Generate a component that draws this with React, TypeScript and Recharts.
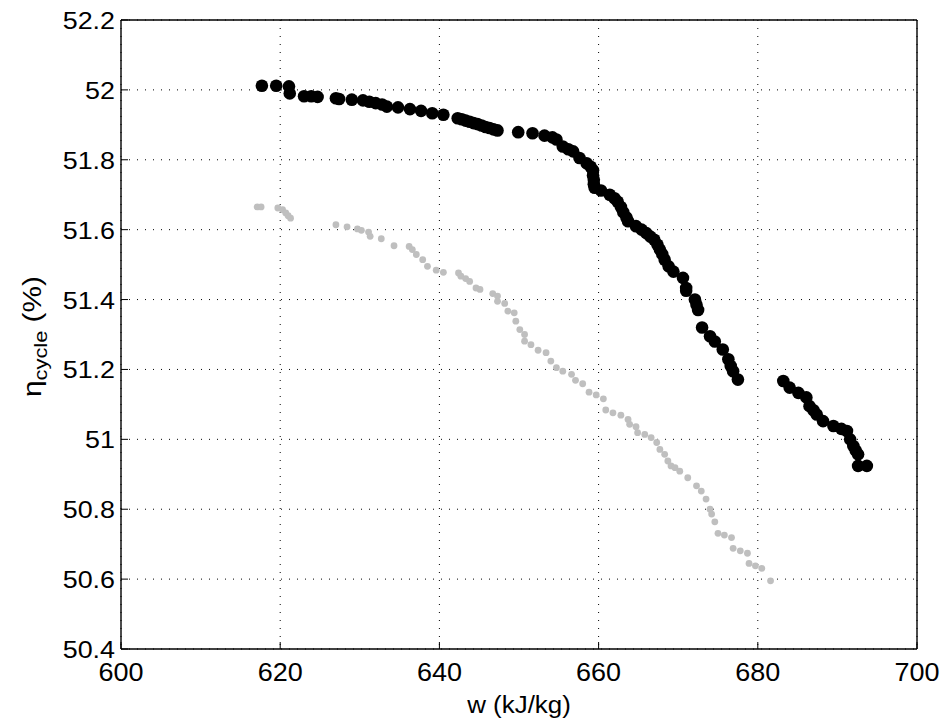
import React from 'react';
import {
  ScatterChart,
  Scatter,
  XAxis,
  YAxis,
  CartesianGrid,
} from 'recharts';

// optimal front, w (kJ/kg) vs cycle efficiency (%)
const blackW = [
  617.7, 619.5, 621.1, 621.2, 623.0, 623.9, 624.7, 627.0, 627.4, 629.0, 630.4, 631.2,
  632.0, 632.8, 633.4, 634.8, 636.3, 637.7, 639.1, 640.5, 642.3, 642.8, 643.3, 643.8,
  644.3, 644.8, 645.3, 645.8, 646.3, 646.8, 647.3, 649.9, 651.7, 653.2, 654.2, 654.7,
  655.5, 656.2, 656.8, 657.6, 658.5, 659.0, 659.3, 659.3, 659.4, 659.4, 659.5, 660.3,
  661.4, 662.0, 662.4, 662.8, 663.1, 663.5, 663.7, 664.7, 665.4, 666.0, 666.5, 667.0,
  667.4, 667.7, 668.0, 668.3, 668.8, 669.4, 670.6, 671.0, 671.0, 672.1, 672.3, 672.5,
  673.0, 674.0, 674.6, 675.6, 676.3, 676.6, 676.9, 677.5, 683.2, 684.0, 685.1, 686.1,
  686.5, 687.0, 687.4, 688.2, 689.5, 690.5, 691.2, 691.6, 692.0, 692.3, 692.6, 692.6,
  693.7,
];
const blackEta = [
  52.012, 52.012, 52.01, 51.99, 51.982, 51.982, 51.98, 51.976, 51.974, 51.972, 51.97, 51.966,
  51.962, 51.958, 51.952, 51.95, 51.945, 51.94, 51.933, 51.929, 51.919, 51.916, 51.912, 51.909,
  51.905, 51.902, 51.898, 51.894, 51.891, 51.887, 51.884, 51.879, 51.876, 51.869, 51.864, 51.858,
  51.838, 51.83, 51.824, 51.805, 51.79, 51.78, 51.77, 51.755, 51.743, 51.73, 51.72, 51.712,
  51.7, 51.69, 51.68, 51.665, 51.65, 51.635, 51.624, 51.61, 51.6, 51.59, 51.58, 51.571,
  51.557, 51.543, 51.53, 51.514, 51.495, 51.48, 51.462, 51.433, 51.425, 51.4, 51.385, 51.37,
  51.32, 51.295, 51.28, 51.257, 51.229, 51.21, 51.195, 51.171, 51.167, 51.148, 51.133, 51.12,
  51.095, 51.083, 51.071, 51.052, 51.038, 51.03, 51.024, 51.0, 50.981, 50.968, 50.957, 50.924,
  50.924,
];

const grayW = [
  617.1, 617.6, 619.7, 620.3, 620.7, 621.0, 621.3, 627.0, 628.4, 629.7, 630.2, 631.1,
  631.3, 632.7, 634.3, 636.2, 636.6, 637.1, 637.9, 638.5, 639.6, 640.5, 642.4, 642.7,
  643.3, 643.8, 644.6, 645.1, 646.7, 647.3, 647.3, 648.2, 648.6, 649.4, 649.6, 650.1,
  650.7, 650.7, 651.5, 652.4, 653.4, 654.0, 654.7, 655.5, 656.6, 657.1, 658.0, 658.8,
  659.7, 660.6, 660.9, 661.8, 662.8, 663.7, 663.9, 664.7, 664.9, 665.8, 666.6, 667.3,
  667.7, 668.3, 668.7, 669.1, 669.6, 670.2, 671.2, 672.3, 672.9, 673.5, 674.0, 674.2,
  674.6, 675.0, 675.8, 676.7, 676.9, 677.8, 678.7, 678.9, 679.7, 680.5, 681.6,
];
const grayEta = [
  51.665, 51.665, 51.662, 51.657, 51.648, 51.64, 51.633, 51.614, 51.608, 51.602, 51.598, 51.593,
  51.581, 51.574, 51.554, 51.552, 51.543, 51.529, 51.514, 51.495, 51.484, 51.478, 51.476, 51.467,
  51.46, 51.452, 51.433, 51.429, 51.417, 51.41, 51.395, 51.389, 51.367, 51.362, 51.338, 51.314,
  51.3, 51.281, 51.271, 51.255, 51.248, 51.224, 51.205, 51.195, 51.186, 51.169, 51.159, 51.135,
  51.127, 51.116, 51.084, 51.076, 51.069, 51.057, 51.043, 51.036, 51.019, 51.014, 51.005, 50.991,
  50.971, 50.957, 50.938, 50.924, 50.919, 50.909, 50.89, 50.867, 50.852, 50.829, 50.8, 50.786,
  50.764, 50.731, 50.726, 50.719, 50.688, 50.681, 50.674, 50.645, 50.638, 50.631, 50.595,
];

const xTicks = [600, 620, 640, 660, 680, 700];
const yTicks = [50.4, 50.6, 50.8, 51, 51.2, 51.4, 51.6, 51.8, 52, 52.2];

const blackData = blackW.map((w, i) => ({ w, eta: blackEta[i] }));
const grayData = grayW.map((w, i) => ({ w, eta: grayEta[i] }));

const FONT = '"Liberation Sans", Arial, Helvetica, sans-serif';
const AXIS_LINE = { stroke: '#000', strokeWidth: 1.4 };

const fmt = (v: number) => String(Number(v.toFixed(1)));

const XTick = ({ x, y, payload }: any) => (
  <text
    transform={`translate(${x},${y}) scale(1.08,1)`}
    dy={26}
    textAnchor="middle"
    fontSize={25}
    fontFamily={FONT}
    fill="#000"
  >
    {payload.value}
  </text>
);

const YTick = ({ x, y, payload }: any) => (
  <text
    transform={`translate(${x},${y}) scale(1.12,1)`}
    dy={9}
    textAnchor="end"
    fontSize={24}
    fontFamily={FONT}
    fill="#000"
  >
    {fmt(payload.value)}
  </text>
);

const bigDot = (p: any) => <circle cx={p.cx} cy={p.cy} r={6.3} fill="#000" />;
const smallDot = (p: any) => <circle cx={p.cx} cy={p.cy} r={3.4} fill="#bfbfbf" />;

const YTitle = ({ viewBox }: any) => {
  const cx = viewBox.x - 20;
  const cy = viewBox.y + viewBox.height / 2 + 2;
  return (
    <text
      transform={`translate(${cx},${cy}) rotate(-90) scale(1.15,1)`}
      textAnchor="middle"
      fontSize={26}
      fontFamily={FONT}
      fill="#000"
    >
      η
      <tspan fontSize={19} dy={6}>cycle</tspan>
      <tspan dy={-6}> (%)</tspan>
    </text>
  );
};

const XTitle = ({ viewBox }: any) => (
  <text
    transform={`translate(${viewBox.x + viewBox.width / 2},${viewBox.y + 64}) scale(1.08,1)`}
    textAnchor="middle"
    fontSize={24}
    fontFamily={FONT}
    fill="#000"
  >
    w (kJ/kg)
  </text>
);

export default function App() {
  return (
    <ScatterChart
      width={932}
      height={712}
      margin={{ top: 11, right: 22, bottom: 31, left: 53 }}
    >
      <CartesianGrid stroke="#000" strokeDasharray="1 7" />
      <XAxis
        type="number"
        dataKey="w"
        domain={[600, 700]}
        ticks={xTicks}
        allowDataOverflow
        height={40}
        tickSize={-7}
        tickMargin={13}
        tick={<XTick />}
        axisLine={AXIS_LINE}
        tickLine={{ stroke: '#000' }}
        label={<XTitle />}
      />
      <XAxis
        xAxisId="top"
        orientation="top"
        type="number"
        domain={[600, 700]}
        ticks={xTicks}
        height={1}
        tickSize={-7}
        tick={false}
        axisLine={AXIS_LINE}
        tickLine={{ stroke: '#000' }}
      />
      <YAxis
        type="number"
        dataKey="eta"
        domain={[50.4, 52.2]}
        ticks={yTicks}
        allowDataOverflow
        width={60}
        tickSize={-7}
        tickMargin={13}
        tick={<YTick />}
        axisLine={AXIS_LINE}
        tickLine={{ stroke: '#000' }}
        label={<YTitle />}
      />
      <YAxis
        yAxisId="right"
        orientation="right"
        type="number"
        domain={[50.4, 52.2]}
        ticks={yTicks}
        width={1}
        tickSize={-7}
        tick={false}
        axisLine={AXIS_LINE}
        tickLine={{ stroke: '#000' }}
      />
      <Scatter data={grayData} shape={smallDot} isAnimationActive={false} />
      <Scatter data={blackData} shape={bigDot} isAnimationActive={false} />
    </ScatterChart>
  );
}
